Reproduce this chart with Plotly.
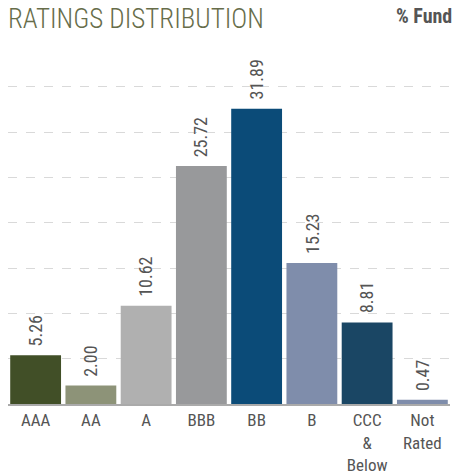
import plotly.graph_objects as go

categories = ["AAA", "AA", "A", "BBB", "BB", "B", "CCC<br>&<br>Below", "Not<br>Rated"]
values = [5.26, 2.00, 10.62, 25.72, 31.89, 15.23, 8.81, 0.47]
labels = ["5.26", "2.00", "10.62", "25.72", "31.89", "15.23", "8.81", "0.47"]
colors = ["#414f27", "#8d9378", "#b0b0b0", "#98999b", "#0b4b78", "#7f8dab", "#1a4664", "#7f8dab"]

FONT = "Roboto Condensed, DejaVu Sans Condensed, sans-serif"

fig = go.Figure(go.Bar(
    x=categories, y=values, marker=dict(color=colors, line=dict(width=0)),
    hoverinfo="skip",
))

anns = []
for c, v, t in zip(categories, values, labels):
    anns.append(dict(x=c, y=v, text=t, textangle=-90, xanchor="center", yanchor="bottom",
                     yshift=7, showarrow=False,
                     font=dict(family=FONT, size=18, color="#555555")))

anns += [
    dict(text="RATINGS DISTRIBUTION", xref="paper", yref="paper", x=0, y=1,
         xanchor="left", yanchor="top", yshift=79, xshift=-2, showarrow=False,
         font=dict(family=FONT, size=27, color="#676d4a", weight=300)),
    dict(text="<b>% Fund</b>", xref="paper", yref="paper", x=1, y=1,
         xanchor="right", yanchor="top", yshift=78, xshift=4, showarrow=False,
         font=dict(family=FONT, size=20, color="#555555")),
]

fig.update_layout(
    width=454, height=476,
    margin=dict(l=8, r=4, t=80, b=72),
    paper_bgcolor="white", plot_bgcolor="white",
    bargap=0.08, showlegend=False,
    xaxis=dict(showline=True, linecolor="#aaaaaa", linewidth=2, ticks="", ticklen=0,
               tickfont=dict(family=FONT, size=17, color="#555555"),
               showgrid=False, automargin=False),
    yaxis=dict(range=[0, 35], tick0=0, dtick=4.893, showticklabels=False,
               showgrid=True, gridcolor="#d9d9d9", griddash="dash", gridwidth=1,
               zeroline=False, automargin=False),
    annotations=anns,
)

fig.write_html("out.html", config={"displayModeBar": False},
               post_script="document.body.style.margin='0';")
